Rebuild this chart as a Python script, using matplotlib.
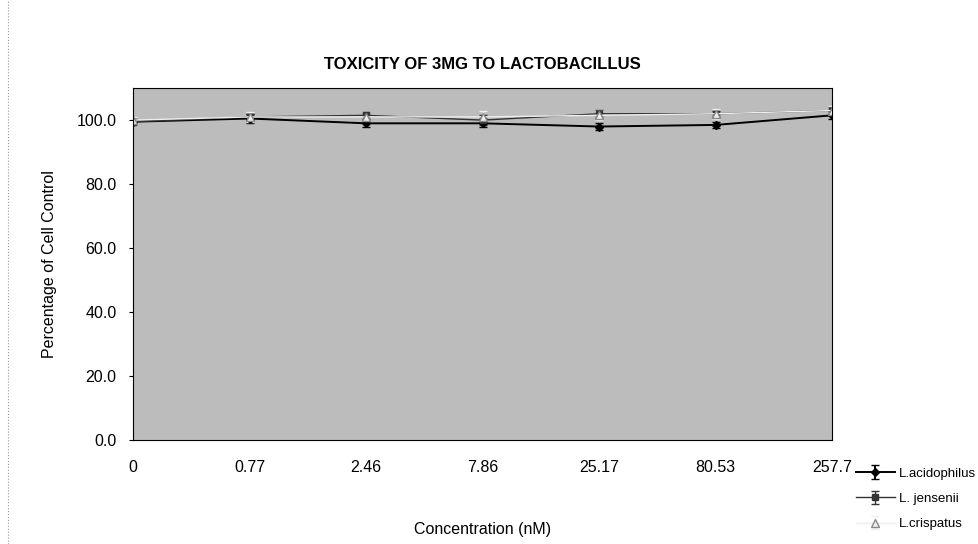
import matplotlib.pyplot as plt
from matplotlib.ticker import FormatStrFormatter
import numpy as np

plt.rcParams['font.family'] = ['Liberation Sans', 'DejaVu Sans']

# Concentrations (category labels) and % of cell control
conc = ["0", "0.77", "2.46", "7.86", "25.17", "80.53", "257.7"]
acidophilus = [99.5, 100.5, 99.0, 99.0, 98.0, 98.5, 101.5]
acidophilus_err = [0.8, 1.5, 1.0, 1.2, 1.0, 1.0, 1.2]
jensenii = [99.5, 101.0, 101.5, 100.0, 102.0, 102.0, 103.0]
jensenii_err = [0.8, 1.0, 1.0, 1.5, 1.2, 1.0, 1.0]
crispatus = [100.0, 101.0, 101.0, 101.0, 101.5, 102.0, 103.0]
crispatus_err = [1.0, 1.5, 1.5, 2.0, 1.5, 1.5, 1.5]

x = np.arange(len(conc))

fig = plt.figure(figsize=(9.79, 5.44), dpi=100)
ax = fig.add_axes([0.136, 0.191, 0.714, 0.647])
ax.set_facecolor("#bcbcbc")

ax.errorbar(x, acidophilus, yerr=acidophilus_err, color="black", marker="D",
            markersize=4, lw=1.4, capsize=3, label="L.acidophilus")
ax.errorbar(x, jensenii, yerr=jensenii_err, color="#333333", marker="s",
            markersize=5, lw=1.0, capsize=3, label="L. jensenii")
ax.errorbar(x, crispatus, yerr=crispatus_err, color="#eeeeee", marker="^",
            markersize=6, lw=1.0, capsize=3, mec="#888888",
            label="L.crispatus")

ax.set_xlim(0, len(conc) - 1)
ax.set_ylim(0, 110)
ax.set_yticks(np.arange(0, 101, 20))
ax.yaxis.set_major_formatter(FormatStrFormatter("%.1f"))
ax.set_xticks(x)
ax.set_xticklabels(conc)
ax.tick_params(axis="x", length=0, pad=14, labelsize=11.5)
ax.tick_params(axis="y", length=3, pad=9, labelsize=11.5)
for s in ax.spines.values():
    s.set_linewidth(0.8)

ax.set_xlabel("Concentration (nM)", fontsize=11.5, labelpad=34)
ax.set_ylabel("Percentage of Cell Control", fontsize=11.5, labelpad=14)
ax.set_title("TOXICITY OF 3MG TO LACTOBACILLUS", fontsize=12,
             fontweight="bold", pad=14)

fig.legend(loc="lower right", bbox_to_anchor=(1.0, 0.02), frameon=False,
           fontsize=9.5, handlelength=3.0, handletextpad=0.3,
           labelspacing=1.0, borderaxespad=0, borderpad=0.2)

# page edge on the left
fig.add_artist(plt.Line2D([0.008, 0.008], [0.0, 1.0], color="#999999",
                          lw=0.8, ls=":"))

plt.savefig("out.png", dpi=100)
